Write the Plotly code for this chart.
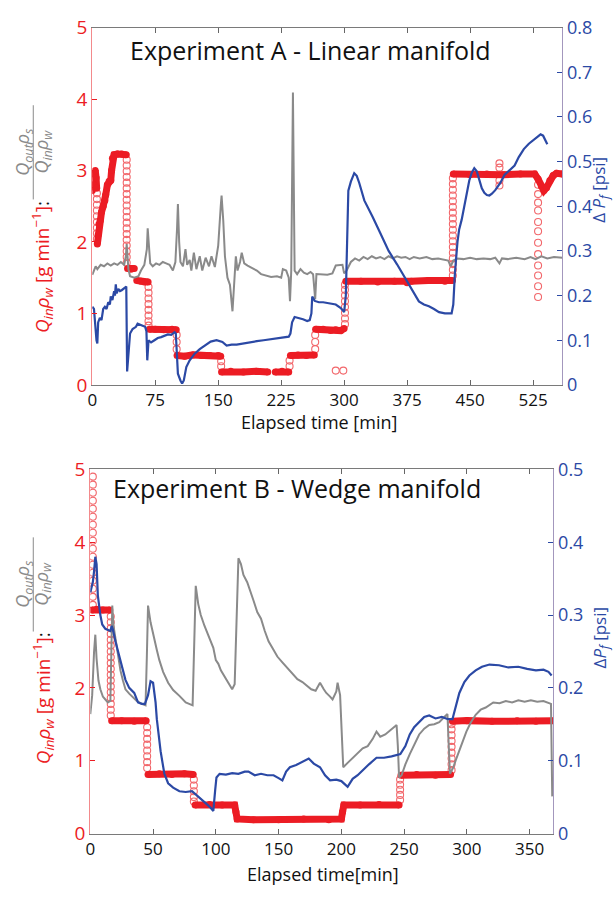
import plotly.graph_objects as go

W, H = 614, 897

# ---------------- Experiment A (linear manifold) ----------------
# Q_in*rho_w plateaus [g/min]; None separates steps
a_flow_t = [0, 1, 2.5, 3.5, 4.5, 5.2, None,
            6, 7, 8, 9.5, 11, 13, 15, 16, 18, 20, 22, 23, 24, 26, 30, 35, 40.5, None,
            42, 46, 50, None,
            53, 58, 62, 66.5, None,
            68, 75, 85, 95, 100, None,
            101, 110, 120, 130, 140, 150, 153, None,
            154, 165, 180, 195, 209, None,
            218, 226, 234, None,
            236, 245, 255, 264.5, None,
            266, 275, 284, 290, 296, 300, None,
            302, 320, 340, 360, 375, 380, 400, 420, 429, None,
            430, 450, 470, 490, 510, 527, 531, 535, 538, 541, 545, 549, 553, 560]
a_flow_q = [2.72, 2.8, 2.95, 3.0, 2.9, 2.75, None,
            1.97, 2.1, 2.25, 2.3, 2.42, 2.5, 2.58, 2.66, 2.8, 2.85, 2.86, 3.0, 3.17, 3.22, 3.23, 3.23, 3.22, None,
            1.63, 1.62, 1.63, None,
            1.46, 1.45, 1.44, 1.44, None,
            0.78, 0.78, 0.77, 0.78, 0.77, None,
            0.41, 0.40, 0.42, 0.41, 0.41, 0.41, 0.40, None,
            0.18, 0.19, 0.18, 0.19, 0.18, None,
            0.18, 0.19, 0.18, None,
            0.41, 0.42, 0.41, 0.42, None,
            0.78, 0.78, 0.76, 0.77, 0.76, 0.79, None,
            1.45, 1.45, 1.44, 1.45, 1.43, 1.45, 1.46, 1.45, 1.46, None,
            2.95, 2.94, 2.95, 2.94, 2.95, 2.95, 2.88, 2.78, 2.72, 2.76, 2.86, 2.93, 2.96, 2.95]

# samples logged while the pump rate was changing (time, readings)
a_ring_cols = [
    (5.5, [2.68, 2.6, 2.52, 2.44, 2.36, 2.28, 2.2, 2.12, 2.04]),
    (41, [3.15, 3.07, 2.99, 2.91, 2.83, 2.75, 2.67, 2.59, 2.51, 2.43, 2.35, 2.27,
          2.19, 2.11, 2.03, 1.95, 1.87, 1.79, 1.71]),
    (67, [1.37, 1.29, 1.21, 1.13, 1.05, 0.97, 0.89, 0.83]),
    (100.5, [0.7, 0.6, 0.5]),
    (153.5, [0.33, 0.26]),
    (235, [0.26, 0.34]),
    (265.5, [0.5, 0.6, 0.7]),
    (290, [0.2]),
    (299, [0.2]),
    (301, [0.85, 0.93, 1.01, 1.09, 1.17, 1.25, 1.33, 1.4]),
    (429.5, [1.53, 1.61, 1.69, 1.77, 1.85, 1.93, 2.01, 2.09, 2.17, 2.25, 2.33, 2.41,
             2.49, 2.57, 2.65, 2.73, 2.81, 2.89]),
    (485, [3.1, 3.04, 2.86, 2.79]),
    (531, [2.8, 2.67, 2.55, 2.44, 2.28, 2.15, 1.99, 1.83, 1.67, 1.53, 1.38, 1.23]),
]

# Q_out*rho_s / (Q_in*rho_w)
a_ratio_t = [0, 2, 4, 6, 8, 10, 14, 18, 22, 26, 30, 34, 38, 40, 41, 42, 43, 45, 50, 55, 58, 62,
             65, 66, 67.5, 69, 72, 76, 80, 84, 88, 92, 96, 99, 101, 102, 103.5, 105, 108, 111,
             113, 116, 118, 121, 124, 128, 131, 135, 139, 142, 146, 150, 153, 154, 156, 158,
             161, 164, 167, 169, 171, 173, 176, 178, 181, 185, 190, 196, 201, 207, 213, 220,
             225, 227, 231, 234, 235.5, 237, 239, 241, 244, 248, 252, 256, 260, 263, 265.5,
             267, 270, 280, 286, 290, 298, 300, 303, 308, 313, 318, 323, 328, 333, 338, 343,
             348, 353, 358, 363, 368, 373, 378, 383, 390, 398, 405, 412, 418, 424, 427, 430,
             435, 442, 450, 458, 466, 474, 480, 485, 488, 495, 505, 515, 522, 528, 535, 542,
             550, 560]
a_ratio_v = [1.54, 1.6, 1.66, 1.62, 1.66, 1.68, 1.66, 1.7, 1.67, 1.7, 1.68, 1.72, 1.68, 1.8, 1.97,
             1.75, 1.62, 1.52, 1.5, 1.52, 1.6, 1.68, 1.9, 2.19, 1.9, 1.7, 1.66, 1.7, 1.68, 1.72,
             1.7, 1.68, 1.6, 1.72, 2.2, 2.53, 2.0, 1.72, 1.66, 1.9, 1.68, 1.75, 1.6, 1.85, 1.62,
             1.8, 1.6, 1.78, 1.66, 1.8, 1.65, 1.95, 2.5, 2.65, 2.3, 1.8, 1.5, 1.4, 1.03, 1.5,
             1.8, 1.6, 1.72, 1.85, 1.7, 1.67, 1.64, 1.6, 1.55, 1.53, 1.51, 1.52, 1.5, 1.62, 1.6,
             1.5, 1.17, 1.6, 4.09, 1.6, 1.55, 1.62, 1.57, 1.55, 1.58, 1.55, 1.2, 1.55, 1.55, 1.54,
             1.56, 1.67, 1.68, 1.56, 1.6, 1.72, 1.77, 1.74, 1.79, 1.76, 1.8, 1.77, 1.79, 1.76,
             1.8, 1.77, 1.8, 1.78, 1.79, 1.76, 1.79, 1.77, 1.79, 1.76, 1.77, 1.76, 1.74, 1.66,
             1.74, 1.77, 1.76, 1.78, 1.76, 1.77, 1.76, 1.78, 1.7, 1.77, 1.76, 1.78, 1.76, 1.79,
             1.76, 1.8, 1.77, 1.79, 1.78]

# pressure drop across the filter [psi]
a_dp_t = [0, 2, 5, 6, 7, 9, 11, 13, 15, 17, 19, 21, 22, 24, 26, 27, 28, 29, 31, 33, 35, 37, 39,
          40.5, 41.5, 43, 45, 48, 52, 54, 57, 60, 63, 64.5, 65.5, 67, 70, 74, 78, 82, 86, 90,
          94, 98, 99.5, 100.5, 102, 105, 107, 109, 112, 116, 122, 128, 135, 141, 148, 155,
          160, 166, 172, 180, 188, 196, 204, 212, 220, 228, 234, 236, 238, 241, 246, 251, 256,
          259, 261, 262, 265, 270, 275, 282, 290, 296, 300, 302, 303, 304, 305, 308, 312, 315,
          318, 324, 329, 334, 343, 353, 363, 373, 380, 389, 395, 401, 407, 413, 420, 428, 430,
          432, 435, 437, 440, 443, 446, 449, 452, 455, 458, 461, 464, 467, 470, 473, 476, 480,
          486, 491, 497, 503, 508, 514, 520, 527, 531, 534, 537, 540, 542]
a_dp_v = [0.175, 0.17, 0.1, 0.093, 0.14, 0.15, 0.145, 0.17, 0.175, 0.17, 0.185, 0.18, 0.198,
          0.19, 0.21, 0.2, 0.225, 0.205, 0.215, 0.21, 0.212, 0.215, 0.218, 0.22, 0.03, 0.07,
          0.115, 0.125, 0.13, 0.137, 0.135, 0.132, 0.13, 0.12, 0.055, 0.1, 0.095, 0.1, 0.105,
          0.107, 0.11, 0.113, 0.112, 0.118, 0.115, 0.065, 0.025, 0.01, 0.003, 0.01, 0.04,
          0.055, 0.07, 0.08, 0.09, 0.097, 0.1, 0.096, 0.088, 0.09, 0.09, 0.093, 0.095, 0.098,
          0.1, 0.102, 0.104, 0.105, 0.108, 0.115, 0.14, 0.152, 0.15, 0.147, 0.143, 0.145, 0.16,
          0.198, 0.188, 0.185, 0.185, 0.183, 0.18, 0.172, 0.163, 0.2, 0.267, 0.35, 0.435,
          0.455, 0.474, 0.468, 0.452, 0.413, 0.395, 0.376, 0.34, 0.3, 0.27, 0.239, 0.215,
          0.187, 0.18, 0.176, 0.17, 0.163, 0.16, 0.16, 0.18, 0.252, 0.32, 0.348, 0.37, 0.398,
          0.43, 0.457, 0.475, 0.485, 0.478, 0.46, 0.44, 0.43, 0.425, 0.424, 0.428, 0.436,
          0.452, 0.47, 0.48, 0.491, 0.51, 0.528, 0.54, 0.55, 0.557, 0.561, 0.558, 0.548, 0.539]

# ---------------- Experiment B (wedge manifold) ----------------
b_flow_t = [1.5, 5, 10, 15.5, None,
            17, 25, 35, 44.5, None,
            46, 55, 65, 75, 82, None,
            83.5, 95, 105, 115, 116, 117, 130, 150, 170, 190, 200, 201, 202, 215, 230, 246, None,
            247.5, 260, 275, 287, None,
            288.5, 300, 320, 340, 355, 370]
b_flow_q = [3.07, 3.08, 3.07, 3.07, None,
            1.55, 1.55, 1.54, 1.55, None,
            0.81, 0.82, 0.81, 0.82, 0.81, None,
            0.39, 0.40, 0.39, 0.39, 0.30, 0.20, 0.19, 0.19, 0.20, 0.19, 0.20, 0.30, 0.39, 0.39, 0.40, 0.39, None,
            0.80, 0.81, 0.80, 0.81, None,
            1.54, 1.55, 1.54, 1.55, 1.54, 1.55]

b_ring_cols = [
    (2, [4.9, 4.79, 4.68, 4.57, 4.46, 4.35, 4.24, 4.13, 4.02, 3.91, 3.8, 3.69, 3.58, 3.47,
         3.36, 3.25, 3.14]),
    (16.3, [2.98, 2.9, 2.82, 2.74, 2.66, 2.58, 2.5, 2.42, 2.34, 2.26, 2.18, 2.1, 2.02, 1.94,
            1.86, 1.78, 1.7, 1.62]),
    (45.3, [1.46, 1.38, 1.3, 1.22, 1.14, 1.06, 0.98, 0.9]),
    (82.5, [0.74, 0.66, 0.58, 0.5, 0.44]),
    (246.8, [0.46, 0.53, 0.6, 0.67, 0.74]),
    (287.8, [0.87, 0.95, 1.03, 1.11, 1.19, 1.27, 1.35, 1.43, 1.5]),
]

b_ratio_t = [0, 1.5, 3, 4, 5, 6.5, 8, 10, 12, 14, 16, 17, 17.5, 18.5, 20, 22, 24, 26, 28, 31, 34,
             37, 41, 44, 45, 46, 48, 50, 53, 55, 58, 62, 66, 71, 76, 81.5, 83, 84, 86, 88, 91,
             95, 98, 100, 102, 104, 107, 111, 113, 115, 116.5, 118, 120, 122, 125, 127, 130,
             133, 136, 139, 142, 145, 149, 153, 157, 161, 165, 169, 172, 176, 179.5, 183, 186,
             188, 191, 193, 196, 197, 199, 201.5, 205, 209, 213, 217, 221, 225, 228, 231, 235,
             239, 242, 244, 245, 246, 248, 251, 254.5, 258, 262, 266, 270, 274, 278, 282, 284.5,
             286.5, 289, 291, 295, 299.6, 303, 307, 311, 315, 321, 326, 331, 336, 341, 346,
             351, 356, 361, 365, 367, 368]
b_ratio_v = [1.64, 1.9, 2.5, 2.73, 2.4, 2.1, 1.98, 1.88, 1.84, 1.8, 1.82, 2.5, 3.13, 2.85, 2.69,
             2.45, 2.24, 2.1, 1.98, 1.92, 1.87, 1.82, 1.78, 1.76, 2.4, 3.13, 2.9, 2.73, 2.52,
             2.38, 2.22, 2.07, 1.97, 1.89, 1.8, 1.76, 2.8, 3.4, 3.15, 3.0, 2.85, 2.69, 2.55,
             2.38, 2.33, 2.24, 2.15, 2.04, 1.98, 2.05, 3.0, 3.78, 3.7, 3.55, 3.45, 3.36, 3.2,
             3.04, 2.95, 2.78, 2.64, 2.55, 2.43, 2.35, 2.27, 2.2, 2.12, 2.08, 2.04, 1.98, 1.96,
             2.07, 1.98, 1.93, 1.88, 1.84, 1.95, 2.07, 1.9, 0.91, 0.97, 1.04, 1.1, 1.17, 1.2,
             1.3, 1.4, 1.33, 1.36, 1.42, 1.46, 1.49, 1.2, 0.77, 0.8, 0.95, 1.09, 1.22, 1.36,
             1.44, 1.49, 1.5, 1.53, 1.6, 1.64, 0.82, 0.9, 1.0, 1.2, 1.4, 1.52, 1.63, 1.7, 1.73,
             1.8, 1.79, 1.82, 1.8, 1.83, 1.81, 1.83, 1.81, 1.82, 1.8, 1.78, 0.51]

b_dp_t = [0, 2, 3, 4, 5, 6, 8, 9.5, 12, 14, 16, 17, 18, 20, 22, 24, 26, 28, 31, 35, 38, 41,
          43.5, 46, 48, 50, 52, 53, 56, 59, 62, 66, 71, 76, 81, 86, 90, 93, 96, 98, 99.5,
          100.5, 103, 108, 113, 118, 123, 126, 131, 136, 141, 146, 150, 153, 156, 159, 164,
          169, 174, 178, 183, 187, 191, 196, 200, 205, 209, 213, 217, 222, 228, 234, 240,
          247, 251, 254.5, 258, 262, 266, 270, 275, 280, 285, 288.5, 291, 294, 298, 302, 307,
          312, 318, 325.6, 333, 341, 348, 355, 361, 365, 367.5]
b_dp_v = [0.331, 0.345, 0.36, 0.38, 0.37, 0.327, 0.3, 0.287, 0.281, 0.28, 0.278, 0.285, 0.28,
          0.264, 0.25, 0.237, 0.224, 0.211, 0.2, 0.193, 0.18, 0.178, 0.178, 0.19, 0.209, 0.207,
          0.18, 0.157, 0.113, 0.082, 0.069, 0.063, 0.058, 0.057, 0.058, 0.051, 0.045, 0.04,
          0.035, 0.031, 0.06, 0.077, 0.082, 0.081, 0.083, 0.082, 0.085, 0.085, 0.08, 0.082,
          0.08, 0.08, 0.076, 0.073, 0.085, 0.091, 0.094, 0.098, 0.103, 0.096, 0.091, 0.08,
          0.073, 0.074, 0.072, 0.064, 0.075, 0.08, 0.087, 0.095, 0.104, 0.104, 0.106, 0.109,
          0.12, 0.136, 0.146, 0.153, 0.16, 0.162, 0.158, 0.16, 0.157, 0.157, 0.175, 0.193,
          0.208, 0.217, 0.224, 0.229, 0.232, 0.231, 0.228, 0.229, 0.226, 0.224, 0.225, 0.222,
          0.217]

a_xticks = [0, 75, 150, 225, 300, 375, 450, 525]
b_xticks = [0, 50, 100, 150, 200, 250, 300, 350]
q_ticks = [0, 1, 2, 3, 4, 5]
a_dp_ticks = [0, 0.1, 0.2, 0.3, 0.4, 0.5, 0.6, 0.7, 0.8]
b_dp_ticks = [0, 0.1, 0.2, 0.3, 0.4, 0.5]

RED = "#ec1c24"
RING = "#f2676b"
GRAY = "#8a8a8a"
BLUE = "#2b49a5"
FONT = "Open Sans"


def flatten(cols):
    ts, qs = [], []
    for t, vals in cols:
        ts += [t] * len(vals)
        qs += vals
    return ts, qs


def px(x):
    return x / W


def py(y):
    return 1 - y / H


fig = go.Figure()


def add_panel(flow_t, flow_q, ring_cols, ratio_t, ratio_v, dp_t, dp_v, xa, ya, ya2):
    rt, rq = flatten(ring_cols)
    fig.add_trace(go.Scatter(x=rt, y=rq, mode="markers", xaxis=xa, yaxis=ya,
                             marker=dict(symbol="circle-open", size=7, color=RING,
                                         line=dict(width=1.1, color=RING)),
                             showlegend=False, hoverinfo="skip"))
    fig.add_trace(go.Scatter(x=flow_t, y=flow_q, mode="lines+markers", xaxis=xa, yaxis=ya,
                             line=dict(color=RED, width=7),
                             marker=dict(symbol="circle", size=7, color=RED),
                             connectgaps=False, showlegend=False))
    fig.add_trace(go.Scatter(x=ratio_t, y=ratio_v, mode="lines", xaxis=xa, yaxis=ya,
                             line=dict(color=GRAY, width=2), showlegend=False))
    fig.add_trace(go.Scatter(x=dp_t, y=dp_v, mode="lines", xaxis=xa, yaxis=ya2,
                             line=dict(color=BLUE, width=2.2), showlegend=False))


add_panel(a_flow_t, a_flow_q, a_ring_cols, a_ratio_t, a_ratio_v, a_dp_t, a_dp_v, "x", "y", "y2")
add_panel(b_flow_t, b_flow_q, b_ring_cols, b_ratio_t, b_ratio_v, b_dp_t, b_dp_v, "x2", "y3", "y4")

xcommon = dict(ticks="inside", ticklen=5, tickwidth=1, tickcolor="#666666",
               showline=True, linecolor="#7a7a7a", linewidth=1, mirror="ticks",
               showgrid=False, zeroline=False,
               tickfont=dict(family=FONT, size=17, color="#111111"))
yleft = dict(ticks="inside", ticklen=5, tickwidth=1, tickcolor=RED,
             showline=True, linecolor="#f38a8c", linewidth=1, showgrid=False,
             zeroline=False, tickfont=dict(family=FONT, size=19, color=RED),
             range=[0, 5], tickvals=q_ticks)
yright = dict(ticks="inside", ticklen=5, tickwidth=1, tickcolor=BLUE,
              showline=True, linecolor="#a397bd", linewidth=1, showgrid=False,
              zeroline=False, tickfont=dict(family=FONT, size=18, color=BLUE),
              side="right")

fig.update_layout(
    width=W, height=H, margin=dict(l=0, r=0, t=0, b=0),
    paper_bgcolor="white", plot_bgcolor="white",
    font=dict(family=FONT),
    xaxis=dict(xcommon, domain=[px(88), px(562)], range=[0, 560], tickvals=a_xticks,
               anchor="y"),
    yaxis=dict(yleft, domain=[py(383), py(15)], anchor="x"),
    yaxis2=dict(yright, overlaying="y", anchor="x", range=[0, 0.8], tickvals=a_dp_ticks),
    xaxis2=dict(xcommon, domain=[px(86), px(553)], range=[0, 369], tickvals=b_xticks,
                anchor="y3"),
    yaxis3=dict(yleft, domain=[py(845), py(470)], anchor="x2"),
    yaxis4=dict(yright, overlaying="y3", anchor="x2", range=[0, 0.5], tickvals=b_dp_ticks),
)

ann = []


def text(x, y, s, size, color, angle=0, xanchor="center"):
    ann.append(dict(x=px(x), y=py(y), xref="paper", yref="paper", text=s, showarrow=False,
                    font=dict(family=FONT, size=size, color=color), textangle=angle,
                    xanchor=xanchor, yanchor="middle"))


text(308, 38, "Experiment A - Linear manifold", 25, "#111111")
text(294, 489, "Experiment B - Wedge manifold", 25, "#111111")
text(317, 421, "Elapsed time [min]", 18, "#111111")
text(321, 887, "Elapsed time[min]", 18, "#111111")

red_lab = ("<i>Q</i><sub><i>in</i></sub><i>ρ</i><sub><i>w</i></sub> [g min<sup>−1</sup>]"
           "<span style='color:#111111'>:</span>")
num_lab = "<i>Q</i><sub><i>out</i></sub><i>ρ</i><sub><i>s</i></sub>"
den_lab = "<i>Q</i><sub><i>in</i></sub><i>ρ</i><sub><i>w</i></sub>"

for (cy_red, cy_frac) in [(262, 143), (706, 588)]:
    text(38, cy_red, red_lab, 19, RED, angle=-90)
    text(19, cy_frac, num_lab, 18, GRAY, angle=-90)
    text(38, cy_frac, den_lab, 18, GRAY, angle=-90)

fig.add_shape(type="line", xref="paper", yref="paper", x0=px(28.5), x1=px(28.5),
              y0=py(95), y1=py(192), line=dict(color=GRAY, width=1))
fig.add_shape(type="line", xref="paper", yref="paper", x0=px(28.5), x1=px(28.5),
              y0=py(540), y1=py(637), line=dict(color=GRAY, width=1))

text(600, 182, "Δ <i>P</i><sub><i>f</i></sub> [psi]", 17, BLUE, angle=-90)
text(600, 643, "Δ<i>P</i><sub><i>f</i></sub> [psi]", 17, BLUE, angle=-90)

fig.update_layout(annotations=ann)
fig.write_html("out.html")
